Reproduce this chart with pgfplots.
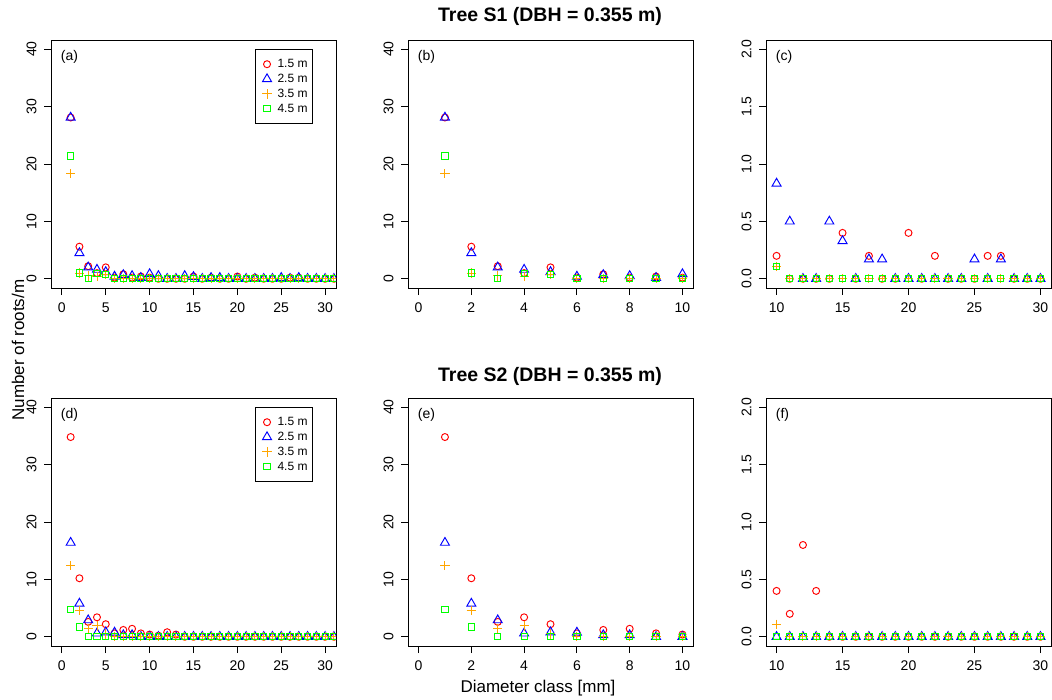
\documentclass[border=0pt]{standalone}
\usepackage{fontspec}
\setmainfont{Liberation Sans}
\usepackage{pgfplots}
\usepackage{pgfplotstable}
\pgfplotsset{compat=1.18}

\definecolor{rRed}{RGB}{255,0,0}
\definecolor{rBlue}{RGB}{0,0,255}
\definecolor{rOrange}{RGB}{255,165,0}
\definecolor{rGreen}{RGB}{0,255,0}

% Number of roots per metre by diameter class, at four distances from the stem
\pgfplotstableread{
d   h15   h25   h35   h45
1   28.1  28.1  18.3  21.4
2   5.6   4.5   1.0   1.0
3   2.2   2.0   0.5   0.1
4   1.0   1.6   0.4   0.9
5   2.0   1.2   0.7   0.7
6   0.2   0.4   0.1   0.0
7   0.8   0.67  0.1   0.0
8   0.2   0.5   0.1   0.1
9   0.4   0.17  0.11  0.0
10  0.2   0.83  0.11  0.11
11  0.0   0.5   0.0   0.0
12  0.0   0.0   0.0   0.0
13  0.0   0.0   0.0   0.0
14  0.0   0.5   0.0   0.0
15  0.4   0.33  0.0   0.0
16  0.0   0.0   0.0   0.0
17  0.2   0.17  0.0   0.0
18  0.0   0.17  0.0   0.0
19  0.0   0.0   0.0   0.0
20  0.4   0.0   0.0   0.0
21  0.0   0.0   0.0   0.0
22  0.2   0.0   0.0   0.0
23  0.0   0.0   0.0   0.0
24  0.0   0.0   0.0   0.0
25  0.0   0.17  0.0   0.0
26  0.2   0.0   0.0   0.0
27  0.2   0.17  0.0   0.0
28  0.0   0.0   0.0   0.0
29  0.0   0.0   0.0   0.0
30  0.0   0.0   0.0   0.0
31  0.0   0.0   0.0   0.0
}\treeSone

\pgfplotstableread{
d   h15   h25   h35   h45
1   34.8  16.4  12.4  4.7
2   10.2  5.8   4.6   1.7
3   2.6   2.9   1.45  0.0
4   3.4   0.6   1.9   0.0
5   2.2   0.8   0.5   0.0
6   0.6   0.75  0.1   0.0
7   1.2   0.3   0.1   0.0
8   1.4   0.3   0.0   0.0
9   0.6   0.0   0.0   0.0
10  0.4   0.0   0.11  0.0
11  0.2   0.0   0.0   0.0
12  0.8   0.0   0.0   0.0
13  0.4   0.0   0.0   0.0
14  0.0   0.0   0.0   0.0
15  0.0   0.0   0.0   0.0
16  0.0   0.0   0.0   0.0
17  0.0   0.0   0.0   0.0
18  0.0   0.0   0.0   0.0
19  0.0   0.0   0.0   0.0
20  0.0   0.0   0.0   0.0
21  0.0   0.0   0.0   0.0
22  0.0   0.0   0.0   0.0
23  0.0   0.0   0.0   0.0
24  0.0   0.0   0.0   0.0
25  0.0   0.0   0.0   0.0
26  0.0   0.0   0.0   0.0
27  0.0   0.0   0.0   0.0
28  0.0   0.0   0.0   0.0
29  0.0   0.0   0.0   0.0
30  0.0   0.0   0.0   0.0
31  0.0   0.0   0.0   0.0
}\treeStwo

\pgfplotsset{
  panel/.style={
    scale only axis, width=285pt, height=248pt, anchor=north west,
    axis line style={line width=0.8pt},
    every tick/.style={black, line width=0.8pt},
    tick align=outside, major tick length=7pt,
    xtick pos=bottom, ytick pos=left,
    clip marker paths=true,
    /pgf/number format/assume math mode=true,
    tick label style={font=\fontsize{14}{16}\selectfont},
    yticklabel style={rotate=90, anchor=south},
    xticklabel shift=4pt, yticklabel shift=4pt,
  },
  fullx/.style={xmin=-1.24, xmax=31.24, xtick={0,5,...,30}},
  zoomx/.style={xmin=-0.4, xmax=10.4, xtick={0,2,...,10}},
  tailx/.style={xmin=9.2, xmax=30.8, xtick={10,15,...,30}},
  bigy/.style={ymin=-1.6, ymax=41.6, ytick={0,10,...,40}},
  smally/.style={ymin=-0.08, ymax=2.08, ytick={0,0.5,...,2.0},
    yticklabels={0.0,0.5,1.0,1.5,2.0}},
  rmark/.style={only marks, line width=0.95pt,
    legend image code/.code={\path (-8pt,0pt) (8pt,0pt);
      \draw[##1] plot coordinates {(0pt,0pt)};}},
  s15/.style={rmark, color=rRed, mark=o, mark size=3.5pt},
  s25/.style={rmark, color=rBlue, mark=triangle, mark size=5.2pt},
  s35/.style={rmark, color=rOrange, mark=+, mark size=4.6pt},
  s45/.style={rmark, color=rGreen, mark=square, mark size=3.1pt},
  rlegend/.style={
    legend style={at={(rel axis cs:0.919,0.964)}, anchor=north east,
      draw=black, line width=0.8pt, fill=white,
      font=\fontsize{12}{14}\selectfont,
      inner xsep=3pt, inner ysep=8pt, row sep=1pt,
      cells={anchor=west}},
  },
}

\newcommand{\rootseries}[1]{%
  \addplot[s15] table[x=d, y=h15] {#1};
  \addplot[s25] table[x=d, y=h25] {#1};
  \addplot[s35] table[x=d, y=h35] {#1};
  \addplot[s45] table[x=d, y=h45] {#1};
}
\newcommand{\panellabel}[1]{%
  \node[anchor=west, inner sep=0pt, font=\fontsize{14}{16}\selectfont]
    at (rel axis cs:0.034,0.931) {#1};
}

\begin{document}
\begin{tikzpicture}
\path[use as bounding box] (0pt,0pt) rectangle (1052pt,-699pt);

% Tree S1
\begin{axis}[panel, fullx, bigy, rlegend, at={(51pt,-40pt)}]
  \rootseries{\treeSone}
  \legend{1.5 m, 2.5 m, 3.5 m, 4.5 m}
  \panellabel{(a)}
\end{axis}
\begin{axis}[panel, zoomx, bigy, at={(408pt,-40pt)}]
  \rootseries{\treeSone}
  \panellabel{(b)}
\end{axis}
\begin{axis}[panel, tailx, smally, at={(766pt,-40pt)}]
  \rootseries{\treeSone}
  \panellabel{(c)}
\end{axis}

% Tree S2
\begin{axis}[panel, fullx, bigy, rlegend, at={(51pt,-398pt)}]
  \rootseries{\treeStwo}
  \legend{1.5 m, 2.5 m, 3.5 m, 4.5 m}
  \panellabel{(d)}
\end{axis}
\begin{axis}[panel, zoomx, bigy, at={(408pt,-398pt)}]
  \rootseries{\treeStwo}
  \panellabel{(e)}
\end{axis}
\begin{axis}[panel, tailx, smally, at={(766pt,-398pt)}]
  \rootseries{\treeStwo}
  \panellabel{(f)}
\end{axis}

\node[font=\bfseries\fontsize{19.5}{22}\selectfont] at (550pt,-16pt) {Tree S1 (DBH = 0.355 m)};
\node[font=\bfseries\fontsize{19.5}{22}\selectfont] at (550pt,-376pt) {Tree S2 (DBH = 0.355 m)};
\node[rotate=90, font=\fontsize{17}{20}\selectfont] at (18pt,-350pt) {Number of roots/m};
\node[font=\fontsize{17}{20}\selectfont] at (538pt,-688pt) {Diameter class [mm]};
\end{tikzpicture}
\end{document}
